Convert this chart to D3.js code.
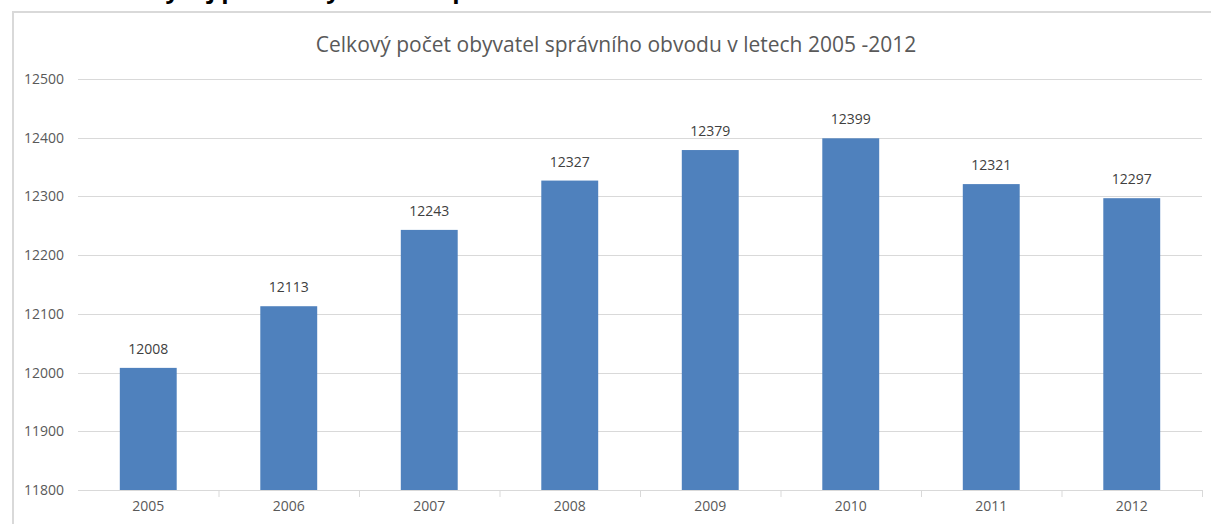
<!DOCTYPE html>
<html lang="cs">
<head>
<meta charset="UTF-8">
<title>Celkový počet obyvatel</title>
<script src="https://d3js.org/d3.v7.min.js"></script>
<style>
  body { margin: 0; background: #fff; }
  text { font-family: "Open Sans", "Noto Sans", sans-serif; }
</style>
</head>
<body>
<script>
  // data
  const years = ["2005", "2006", "2007", "2008", "2009", "2010", "2011", "2012"];
  const population = [12008, 12113, 12243, 12327, 12379, 12399, 12321, 12297];
  const yTicks = [11800, 11900, 12000, 12100, 12200, 12300, 12400, 12500];
  const chartTitle = "Celkový počet obyvatel správního obvodu v letech 2005 -2012";

  const W = 1211, H = 524;
  const plotLeft = 78, plotRight = 1202, plotTop = 79, plotBottom = 490;

  var svg = d3.select("body").append("svg")
    .attr("width", W)
    .attr("height", H);

  // document heading above the chart, cut off by the top edge as in the source
  svg.append("text")
    .attr("x", 150)
    .attr("y", -2)
    .style("font-size", "24px")
    .style("font-weight", "bold")
    .attr("fill", "#000")
    .text("Vývoj počtu obyvatel ve správním obvodu");

  // chart frame
  svg.append("rect")
    .attr("x", 13)
    .attr("y", 12)
    .attr("width", W)
    .attr("height", H)
    .attr("fill", "#fff")
    .attr("stroke", "#d9d9d9")
    .attr("stroke-width", 2);

  const x = d3.scaleBand()
    .domain(years)
    .range([plotLeft, plotRight])
    .paddingInner(0.595)
    .paddingOuter(0.2975);

  const y = d3.scaleLinear()
    .domain([11800, 12500])
    .range([plotBottom, plotTop]);

  // gridlines
  svg.append("g")
    .selectAll("line")
    .data(yTicks)
    .enter().append("line")
    .attr("x1", plotLeft)
    .attr("x2", plotRight)
    .attr("y1", d => Math.round(y(d)) + 0.5)
    .attr("y2", d => Math.round(y(d)) + 0.5)
    .attr("stroke", "#d9d9d9")
    .attr("stroke-width", 1);

  // y labels
  svg.append("g")
    .selectAll("text")
    .data(yTicks)
    .enter().append("text")
    .attr("x", 64)
    .attr("y", d => y(d) + 5)
    .attr("text-anchor", "end")
    .attr("fill", "#595959")
    .style("font-size", "14px")
    .text(d => d);

  // bars
  svg.append("g")
    .selectAll("rect")
    .data(population)
    .enter().append("rect")
    .attr("x", (d, i) => x(years[i]))
    .attr("y", d => y(d))
    .attr("width", x.bandwidth())
    .attr("height", d => y(11800) - y(d))
    .attr("fill", "#4f81bd");

  // bar value labels
  svg.append("g")
    .selectAll("text")
    .data(population)
    .enter().append("text")
    .attr("x", (d, i) => x(years[i]) + x.bandwidth() / 2)
    .attr("y", d => y(d) - 14)
    .attr("text-anchor", "middle")
    .attr("fill", "#404040")
    .style("font-size", "14px")
    .text(d => d);

  // x axis
  const xAxis = d3.axisBottom(x)
    .tickSize(0)
    .tickPadding(11);
  const gx = svg.append("g")
    .attr("transform", "translate(0," + (Math.round(y(11800)) + 0.5) + ")")
    .call(xAxis);
  gx.select(".domain").remove();
  gx.selectAll("text")
    .attr("fill", "#595959")
    .style("font-size", "14px")
    .style("font-family", "\"Open Sans\", sans-serif");

  // category boundary ticks
  const step = x.step();
  svg.append("g")
    .selectAll("line")
    .data(d3.range(1, years.length + 1))
    .enter().append("line")
    .attr("x1", i => plotLeft + i * step + 0.5)
    .attr("x2", i => plotLeft + i * step + 0.5)
    .attr("y1", plotBottom)
    .attr("y2", plotBottom + 7)
    .attr("stroke", "#d9d9d9");

  // title
  svg.append("text")
    .attr("x", 616)
    .attr("y", 52)
    .attr("text-anchor", "middle")
    .attr("fill", "#595959")
    .style("font-size", "21px")
    .text(chartTitle);
</script>
</body>
</html>
